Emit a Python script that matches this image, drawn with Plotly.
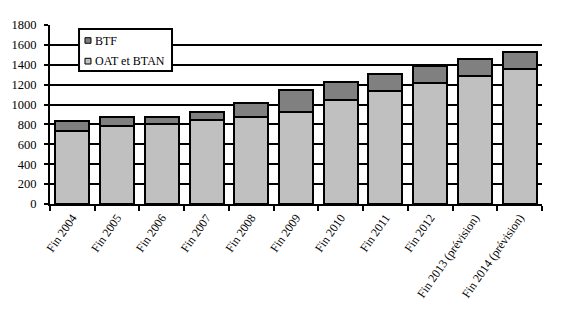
import plotly.graph_objects as go

categories = ["Fin 2004", "Fin 2005", "Fin 2006", "Fin 2007", "Fin 2008", "Fin 2009",
              "Fin 2010", "Fin 2011", "Fin 2012", "Fin 2013 (prévision)", "Fin 2014 (prévision)"]
oat_btan = [732, 782, 806, 840, 873, 927, 1044, 1132, 1216, 1283, 1355]
btf = [98, 91, 67, 83, 141, 218, 182, 174, 171, 172, 173]
y_ticks = [0, 200, 400, 600, 800, 1000, 1200, 1400, 1600, 1800]

OAT_COLOR = "#C0C0C0"
BTF_COLOR = "#808080"

font = dict(family="Liberation Serif, Times New Roman, serif", size=12, color="black")
yfont = dict(family="Liberation Serif, Times New Roman, serif", size=12.5, color="black")

fig = go.Figure()
fig.add_trace(go.Bar(x=categories, y=oat_btan, name="OAT et BTAN",
                     marker=dict(color=OAT_COLOR, line=dict(color="black", width=2))))
fig.add_trace(go.Bar(x=categories, y=btf, name="BTF",
                     marker=dict(color=BTF_COLOR, line=dict(color="black", width=2))))

# Manual legend (box, swatches, labels) in paper coordinates
shapes = [
    dict(type="rect", xref="paper", yref="paper", x0=0.059, x1=0.248, y0=0.743, y1=0.978,
         fillcolor="white", line=dict(color="black", width=2), layer="above"),
    dict(type="rect", xref="paper", yref="paper", x0=0.0711, x1=0.0833, y0=0.898, y1=0.929,
         fillcolor=BTF_COLOR, line=dict(color="black", width=1), layer="above"),
    dict(type="rect", xref="paper", yref="paper", x0=0.0711, x1=0.0833, y0=0.782, y1=0.814,
         fillcolor=OAT_COLOR, line=dict(color="black", width=1), layer="above"),
]
annotations = [
    dict(text="BTF", xref="paper", yref="paper", x=0.0874, y=0.913,
         xanchor="left", yanchor="middle", showarrow=False, font=font),
    dict(text="OAT et BTAN", xref="paper", yref="paper", x=0.0874, y=0.799,
         xanchor="left", yanchor="middle", showarrow=False, font=font),
]

fig.update_layout(
    width=561, height=324,
    margin=dict(l=50, r=19, t=25, b=120),
    barmode="stack", bargap=0.24,
    plot_bgcolor="white", paper_bgcolor="white",
    font=font,
    showlegend=False,
    shapes=shapes,
    annotations=annotations,
    xaxis=dict(type="category", tickangle=-55, tickson="boundaries",
               ticks="outside", ticklen=5, tickwidth=2, tickcolor="black",
               showline=True, linecolor="black", linewidth=2, automargin=False,
               showgrid=False, tickfont=font),
    yaxis=dict(range=[0, 1800], tickvals=y_ticks, ticks="outside", ticklen=4,
               tickwidth=2, tickcolor="black", ticklabelstandoff=5, automargin=False,
               showline=True, linecolor="black", linewidth=2,
               showgrid=True, gridcolor="black", gridwidth=2,
               zeroline=False, tickfont=yfont),
)

fig.write_html("out.html")
